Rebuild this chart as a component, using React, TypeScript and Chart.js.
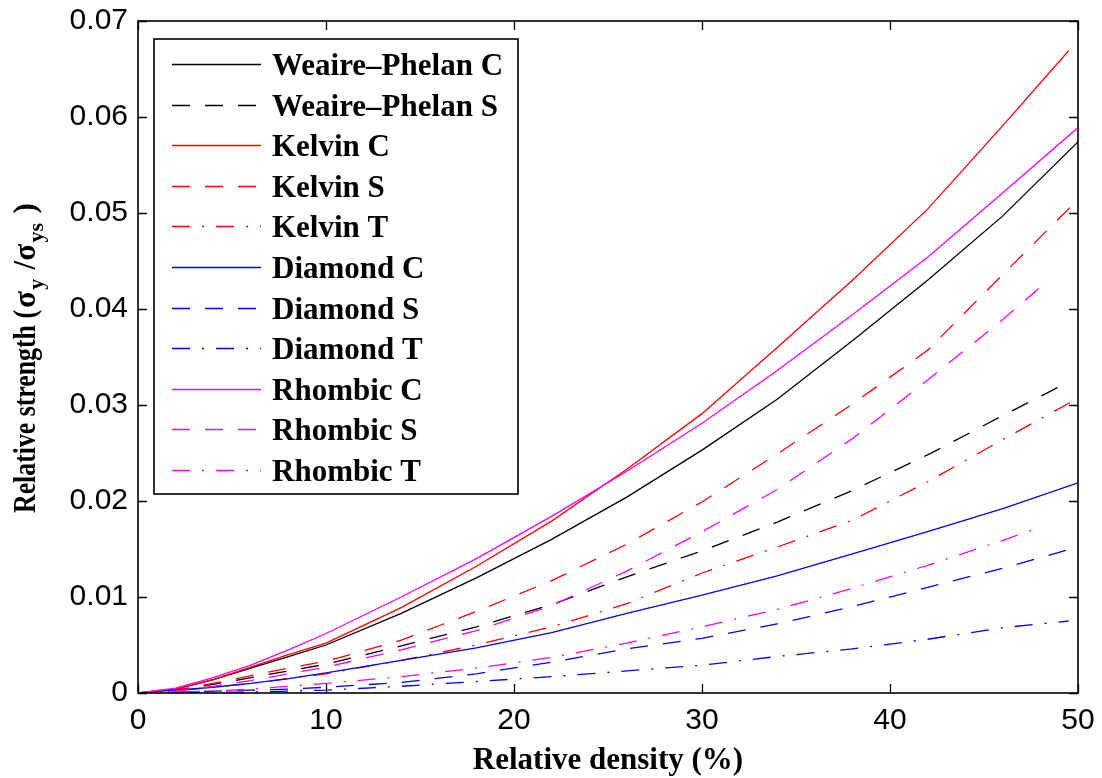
import React, { useEffect, useRef } from "react";
import { Chart, registerables } from "chart.js";

Chart.register(...registerables);

// ---- data ----
const densityFull = [0, 2, 4, 6, 8, 10, 14, 18, 22, 26, 30, 34, 38, 42, 46, 50];
const densityShort = [0, 2, 4, 6, 8, 10, 14, 18, 22, 26, 30, 34, 38, 42, 46, 49.5];
const densityRhombic = [0, 2, 4, 6, 8, 10, 14, 18, 22, 26, 30, 34, 38, 42, 46, 48];

const weairePhelanC = [0, 0.0004, 0.0014, 0.0026, 0.0038, 0.005, 0.0083, 0.012, 0.016, 0.0204, 0.0253, 0.0306, 0.0367, 0.043, 0.0497, 0.0574];
const weairePhelanS = [0, 0.0003, 0.0009, 0.0016, 0.0023, 0.003, 0.0049, 0.0069, 0.0092, 0.0121, 0.0148, 0.0178, 0.0211, 0.0248, 0.0289, 0.0324];
const kelvinC = [0, 0.0004, 0.0014, 0.0027, 0.004, 0.0052, 0.0089, 0.0132, 0.0179, 0.0233, 0.0291, 0.036, 0.043, 0.0504, 0.0591, 0.0669];
const kelvinS = [0, 0.0003, 0.001, 0.0018, 0.0026, 0.0033, 0.0055, 0.0085, 0.0117, 0.0155, 0.0199, 0.0249, 0.0301, 0.0357, 0.0436, 0.0514];
const kelvinT = [0, 0.0002, 0.0006, 0.001, 0.0015, 0.002, 0.0034, 0.005, 0.0069, 0.0093, 0.0125, 0.0152, 0.018, 0.022, 0.0264, 0.0307];
const diamondC = [0, 0.0003, 0.0006, 0.001, 0.0015, 0.0021, 0.0034, 0.0047, 0.0063, 0.0083, 0.0102, 0.0122, 0.0145, 0.0168, 0.0192, 0.0219];
const diamondS = [0, 0.0001, 0.0002, 0.0003, 0.0004, 0.0006, 0.0011, 0.002, 0.0032, 0.0046, 0.0057, 0.0072, 0.009, 0.011, 0.013, 0.0152];
const diamondT = [0, 0, 0.0001, 0.0001, 0.0002, 0.0003, 0.0007, 0.0012, 0.0017, 0.0023, 0.0029, 0.0038, 0.0046, 0.0056, 0.0068, 0.0075];
const rhombicC = [0, 0.0005, 0.0016, 0.0029, 0.0045, 0.0062, 0.01, 0.014, 0.0184, 0.0231, 0.0281, 0.0336, 0.0394, 0.0454, 0.0521, 0.0589];
const rhombicS = [0, 0.0002, 0.0007, 0.0013, 0.002, 0.0027, 0.0045, 0.0065, 0.0091, 0.0127, 0.0168, 0.0212, 0.0265, 0.0326, 0.0389, 0.0423];
const rhombicT = [0, 0.0001, 0.0002, 0.0004, 0.0007, 0.001, 0.0017, 0.0026, 0.0037, 0.0052, 0.0069, 0.0087, 0.0109, 0.0133, 0.0159, 0.0173];

const seriesLabels = [
  "Weaire\u2013Phelan C", "Weaire\u2013Phelan S", "Kelvin C", "Kelvin S", "Kelvin T",
  "Diamond C", "Diamond S", "Diamond T", "Rhombic C", "Rhombic S", "Rhombic T",
];
const xTicks = [0, 10, 20, 30, 40, 50];
const xTickLabels = ["0", "10", "20", "30", "40", "50"];
const yTicks = [0, 0.01, 0.02, 0.03, 0.04, 0.05, 0.06, 0.07];
const yTickLabels = ["0", "0.01", "0.02", "0.03", "0.04", "0.05", "0.06", "0.07"];
const xTitle = "Relative density (%)";
const yTitleMain = "Relative strength (";
const yTitleParts = [
  { t: "\u03c3", sub: false },
  { t: "y", sub: true },
  { t: " /\u03c3", sub: false },
  { t: "ys", sub: true },
  { t: " )", sub: false },
];

// ---- styles ----
const BLACK = "#000000";
const RED = "#ff0000";
const BLUE = "#0000ff";
const MAGENTA = "#ff00ff";
const SOLID: number[] = [];
const DASH = [18, 15];
const DASHDOT = [18, 12, 2, 12];

const SERIF = "'Liberation Serif', 'Times New Roman', serif";
const SANS = "'Liberation Sans', Arial, Helvetica, sans-serif";

function pts(xs: number[], ys: number[]) {
  return xs.map((x, i) => ({ x, y: ys[i] }));
}

const seriesDefs = [
  { xs: densityFull, ys: weairePhelanC, color: BLACK, dash: SOLID },
  { xs: densityShort, ys: weairePhelanS, color: BLACK, dash: DASH },
  { xs: densityShort, ys: kelvinC, color: RED, dash: SOLID },
  { xs: densityFull, ys: kelvinS, color: RED, dash: DASH },
  { xs: densityFull, ys: kelvinT, color: RED, dash: DASHDOT },
  { xs: densityFull, ys: diamondC, color: BLUE, dash: SOLID },
  { xs: densityFull, ys: diamondS, color: BLUE, dash: DASH },
  { xs: densityShort, ys: diamondT, color: BLUE, dash: DASHDOT },
  { xs: densityFull, ys: rhombicC, color: MAGENTA, dash: SOLID },
  { xs: densityRhombic, ys: rhombicS, color: MAGENTA, dash: DASH },
  { xs: densityRhombic, ys: rhombicT, color: MAGENTA, dash: DASHDOT },
];

const matlabPlugin = {
  id: "matlabDecor",
  afterDraw(chart: any) {
    const ctx = chart.ctx as CanvasRenderingContext2D;
    const { left, right, top, bottom } = chart.chartArea;
    const xs = chart.scales.x;
    const ys = chart.scales.y;
    ctx.save();
    // box
    ctx.strokeStyle = "#000";
    ctx.lineWidth = 1.6;
    ctx.setLineDash([]);
    ctx.strokeRect(left, top, right - left, bottom - top);
    // ticks inward
    const tl = 9;
    ctx.lineWidth = 1.3;
    ctx.beginPath();
    xTicks.forEach((v) => {
      const px = Math.round(xs.getPixelForValue(v)) + 0.5;
      ctx.moveTo(px, bottom);
      ctx.lineTo(px, bottom - tl);
      ctx.moveTo(px, top);
      ctx.lineTo(px, top + tl);
    });
    yTicks.forEach((v) => {
      const py = Math.round(ys.getPixelForValue(v)) + 0.5;
      ctx.moveTo(left, py);
      ctx.lineTo(left + tl, py);
      ctx.moveTo(right, py);
      ctx.lineTo(right - tl, py);
    });
    ctx.stroke();

    // legend
    const lx0 = 154, ly0 = 39, lx1 = 518, ly1 = 494;
    ctx.fillStyle = "#fff";
    ctx.fillRect(lx0, ly0, lx1 - lx0, ly1 - ly0);
    ctx.strokeStyle = "#000";
    ctx.lineWidth = 1.6;
    ctx.strokeRect(lx0, ly0, lx1 - lx0, ly1 - ly0);
    ctx.font = `bold 31px ${SERIF}`;
    ctx.textAlign = "left";
    ctx.textBaseline = "alphabetic";
    chart.data.datasets.forEach((ds: any, i: number) => {
      const cy = 64 + i * 40.6;
      ctx.strokeStyle = ds.borderColor;
      ctx.lineWidth = 1.3;
      ctx.setLineDash(ds.borderDash || []);
      ctx.beginPath();
      ctx.moveTo(172, Math.round(cy) + 0.5);
      ctx.lineTo(261, Math.round(cy) + 0.5);
      ctx.stroke();
      ctx.setLineDash([]);
      ctx.fillStyle = "#000";
      ctx.fillText(ds.label, 272, cy + 11);
    });

    // x title
    ctx.fillStyle = "#000";
    ctx.font = `bold 31px ${SERIF}`;
    ctx.textAlign = "center";
    ctx.fillText(xTitle, (left + right) / 2, 769);

    // y title with subscripts (rotated)
    const mainFont = `bold 31px ${SERIF}`;
    const subFont = `bold 22px ${SERIF}`;
    ctx.translate(35, 513);
    ctx.rotate(-Math.PI / 2);
    ctx.textAlign = "left";
    ctx.font = mainFont;
    const w = ctx.measureText(yTitleMain).width;
    ctx.save();
    ctx.scale(203 / w, 1);
    ctx.fillText(yTitleMain, 0, 0);
    ctx.restore();
    let cx = 205;
    yTitleParts.forEach((p) => {
      ctx.font = p.sub ? subFont : mainFont;
      ctx.fillText(p.t, cx, p.sub ? 8 : 0);
      cx += ctx.measureText(p.t).width + 1.5;
    });
    ctx.restore();
  },
};

export default function App() {
  const ref = useRef<HTMLCanvasElement | null>(null);
  useEffect(() => {
    if (!ref.current) return;
    const datasets = seriesDefs.map((s, i) => ({
      label: seriesLabels[i],
      data: pts(s.xs, s.ys),
      borderColor: s.color,
      backgroundColor: s.color,
      borderDash: s.dash,
      borderWidth: 1.3,
      pointRadius: 0,
      tension: 0,
      fill: false,
      order: seriesDefs.length - i,
    }));
    const chart = new Chart(ref.current, {
      type: "line",
      data: { datasets },
      options: {
        animation: false,
        responsive: false,
        events: [],
        layout: { padding: { top: 21, right: 24, left: 0, bottom: 0 } },
        plugins: { legend: { display: false }, tooltip: { enabled: false } },
        scales: {
          x: {
            type: "linear",
            min: 0,
            max: 50,
            grid: { display: false, drawTicks: false },
            border: { display: false },
            afterBuildTicks: (scale: any) => {
              scale.ticks = xTicks.map((v) => ({ value: v }));
            },
            afterFit: (scale: any) => {
              scale.height = 85;
              scale.paddingLeft = 0;
              scale.paddingRight = 0;
            },
            ticks: {
              color: "#000",
              padding: 10,
              maxRotation: 0,
              font: { family: SANS, size: 30 },
              callback: (_v: any, i: number) => xTickLabels[i],
            },
          },
          y: {
            type: "linear",
            min: 0,
            max: 0.07,
            grid: { display: false, drawTicks: false },
            border: { display: false },
            afterBuildTicks: (scale: any) => {
              scale.ticks = yTicks.map((v) => ({ value: v }));
            },
            afterFit: (scale: any) => {
              scale.width = 138;
              scale.paddingTop = 0;
              scale.paddingBottom = 0;
            },
            ticks: {
              color: "#000",
              padding: 10,
              font: { family: SANS, size: 30 },
              callback: (_v: any, i: number) => yTickLabels[i],
            },
          },
        },
      },
      plugins: [matlabPlugin],
    });
    return () => chart.destroy();
  }, []);
  return (
    <div style={{ position: "fixed", left: 0, top: 0, width: 1102, height: 778, background: "#fff" }}>
      <canvas ref={ref} width={1102} height={778} style={{ display: "block" }} />
    </div>
  );
}
